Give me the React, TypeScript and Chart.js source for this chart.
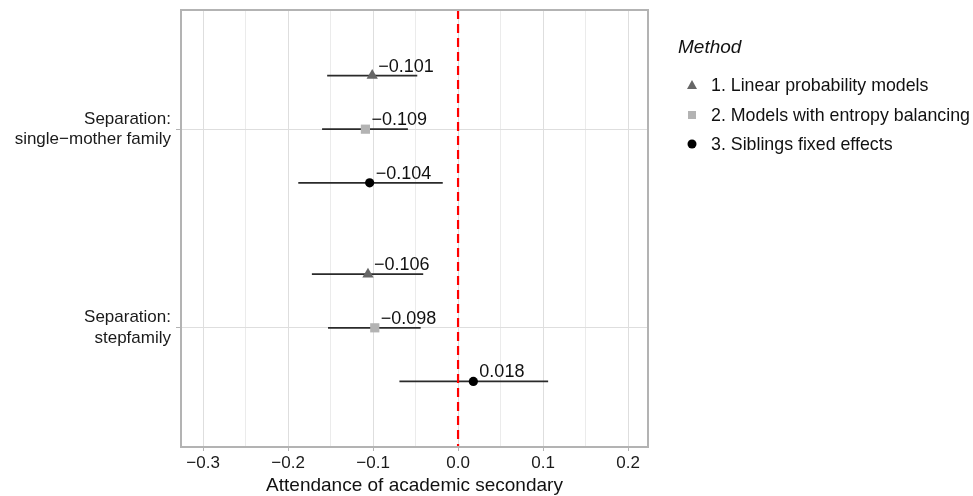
import { useEffect, useRef } from 'react';
import { Chart, registerables } from 'chart.js';

Chart.register(...registerables);

// ---------- data ----------
const categories: string[][] = [
  ['Separation:', 'single−mother family'],
  ['Separation:', 'stepfamily'],
];
const methods = [
  '1. Linear probability models',
  '2. Models with entropy balancing',
  '3. Siblings fixed effects',
];
const estLPM = [-0.101, -0.106];
const lowLPM = [-0.154, -0.172];
const highLPM = [-0.048, -0.041];
const estEB = [-0.109, -0.098];
const lowEB = [-0.160, -0.153];
const highEB = [-0.059, -0.044];
const estFE = [-0.104, 0.018];
const lowFE = [-0.188, -0.069];
const highFE = [-0.018, 0.106];
const xMajorTicks = [-0.3, -0.2, -0.1, 0.0, 0.1, 0.2];
const xTickLabels = ['−0.3', '−0.2', '−0.1', '0.0', '0.1', '0.2'];
const xMinorTicks = [-0.25, -0.15, -0.05, 0.05, 0.15];
const xTitle = 'Attendance of academic secondary';
const legendTitle = 'Method';

// ---------- styling ----------
const FONT = '"Liberation Sans", Arial, sans-serif';
const DODGE = [0.27, 0, -0.27];
const pointStyles = ['triangle', 'rect', 'circle'];
const pointColors = ['#666666', '#b3b3b3', '#000000'];
const pointRadii = [6.5, 6.5, 4.6];

const catValue = (i: number) => categories.length - i;
const fmt = (v: number) => v.toFixed(3).replace('-', '−');

const series = [
  { est: estLPM, lo: lowLPM, hi: highLPM },
  { est: estEB, lo: lowEB, hi: highEB },
  { est: estFE, lo: lowFE, hi: highFE },
];

const forestPlugin = {
  id: 'forest',
  beforeDatasetsDraw(chart: any) {
    const { ctx, chartArea, scales } = chart;
    const x = scales.x;
    const y = scales.y;
    ctx.save();
    // error bars
    chart.data.datasets.forEach((ds: any) => {
      ds.data.forEach((p: any) => {
        const py = y.getPixelForValue(p.y);
        ctx.beginPath();
        ctx.moveTo(x.getPixelForValue(p.lo), py);
        ctx.lineTo(x.getPixelForValue(p.hi), py);
        ctx.strokeStyle = '#2a2a2a';
        ctx.lineWidth = 1.8;
        ctx.stroke();
      });
    });
    // zero reference line
    const zx = x.getPixelForValue(0);
    ctx.setLineDash([9, 5]);
    ctx.strokeStyle = '#ff0000';
    ctx.lineWidth = 2.2;
    ctx.beginPath();
    ctx.moveTo(zx, chartArea.top);
    ctx.lineTo(zx, chartArea.bottom);
    ctx.stroke();
    ctx.restore();
  },
  afterDatasetsDraw(chart: any) {
    const { ctx, chartArea, scales } = chart;
    const x = scales.x;
    const y = scales.y;
    ctx.save();
    // value labels
    ctx.font = `18px ${FONT}`;
    ctx.fillStyle = '#111111';
    ctx.textAlign = 'left';
    ctx.textBaseline = 'alphabetic';
    chart.data.datasets.forEach((ds: any) => {
      ds.data.forEach((p: any) => {
        ctx.fillText(fmt(p.x), x.getPixelForValue(p.x) + 6, y.getPixelForValue(p.y) - 4);
      });
    });
    // panel border
    ctx.strokeStyle = '#b3b3b3';
    ctx.lineWidth = 2;
    ctx.strokeRect(chartArea.left, chartArea.top, chartArea.right - chartArea.left, chartArea.bottom - chartArea.top);
    // x title
    ctx.font = `19px ${FONT}`;
    ctx.fillStyle = '#111111';
    ctx.textAlign = 'center';
    ctx.textBaseline = 'middle';
    ctx.fillText(xTitle, (chartArea.left + chartArea.right) / 2, 486);
    // legend
    const lx = chartArea.right + 30;
    ctx.textAlign = 'left';
    ctx.font = `italic 19px ${FONT}`;
    ctx.fillText(legendTitle, lx, 48);
    ctx.font = `17.8px ${FONT}`;
    const rows = [85, 115, 144];
    chart.data.datasets.forEach((ds: any, i: number) => {
      const my = rows[i];
      const mx = lx + 14;
      ctx.fillStyle = ds.backgroundColor;
      ctx.beginPath();
      if (ds.pointStyle === 'triangle') {
        ctx.moveTo(mx, my - 5);
        ctx.lineTo(mx + 5, my + 4);
        ctx.lineTo(mx - 5, my + 4);
        ctx.closePath();
        ctx.fill();
      } else if (ds.pointStyle === 'rect') {
        ctx.fillRect(mx - 4, my - 4, 8, 8);
      } else {
        ctx.arc(mx, my, 4.5, 0, Math.PI * 2);
        ctx.fill();
      }
      ctx.fillStyle = '#111111';
      ctx.fillText(ds.label, lx + 33, my + 1);
    });
    ctx.restore();
  },
};

export default function App() {
  const ref = useRef<HTMLCanvasElement>(null);
  useEffect(() => {
    document.body.style.margin = '0';
    const canvas = ref.current!;
    const chart = new Chart(canvas, {
      type: 'scatter',
      data: {
        datasets: series.map((s, k) => ({
          label: methods[k],
          data: s.est.map((v, i) => ({ x: v, y: catValue(i) + DODGE[k], lo: s.lo[i], hi: s.hi[i] })),
          pointStyle: pointStyles[k] as any,
          backgroundColor: pointColors[k],
          borderColor: pointColors[k],
          borderWidth: 0,
          pointRadius: pointRadii[k],
          pointHoverRadius: pointRadii[k],
        })),
      },
      options: {
        animation: false,
        responsive: false,
        devicePixelRatio: 1,
        layout: { padding: { top: 10, right: 325, left: 0, bottom: 0 } },
        plugins: { legend: { display: false }, tooltip: { enabled: false } },
        scales: {
          x: {
            type: 'linear',
            min: -0.326,
            max: 0.2235,
            border: { display: false },
            afterBuildTicks: (scale: any) => {
              scale.ticks = [...xMajorTicks, ...xMinorTicks].sort((a, b) => a - b).map((v) => ({ value: v }));
            },
            afterFit: (scale: any) => {
              scale.height = 49;
              scale.paddingLeft = 0;
              scale.paddingRight = 0;
            },
            grid: {
              color: '#dedede',
              lineWidth: (c: any) => (xMajorTicks.some((m) => Math.abs(m - c.tick.value) < 1e-9) ? 1 : 0.6),
              tickColor: (c: any) => (xMajorTicks.some((m) => Math.abs(m - c.tick.value) < 1e-9) ? '#b3b3b3' : 'rgba(0,0,0,0)'),
              tickLength: 4,
              drawTicks: true,
            },
            ticks: {
              autoSkip: false,
              maxRotation: 0,
              padding: 2,
              color: '#1a1a1a',
              font: { family: FONT, size: 17 },
              callback: (v: any) => {
                const idx = xMajorTicks.findIndex((m) => Math.abs(m - Number(v)) < 1e-9);
                return idx >= 0 ? xTickLabels[idx] : '';
              },
            },
          },
          y: {
            type: 'linear',
            min: 0.4,
            max: 2.6,
            border: { display: false },
            afterBuildTicks: (scale: any) => {
              scale.ticks = categories.map((_, i) => ({ value: catValue(i) }));
            },
            afterFit: (scale: any) => {
              scale.width = 181;
              scale.paddingTop = 0;
              scale.paddingBottom = 0;
            },
            grid: {
              color: '#dedede',
              lineWidth: 1,
              tickColor: '#b3b3b3',
              tickLength: 5,
            },
            ticks: {
              autoSkip: false,
              padding: 5,
              color: '#1a1a1a',
              font: { family: FONT, size: 17, lineHeight: 1.2 },
              callback: (v: any) => {
                const idx = categories.findIndex((_, i) => catValue(i) === Number(v));
                return idx >= 0 ? categories[idx] : '';
              },
            },
          },
        },
      },
      plugins: [forestPlugin],
    });
    return () => chart.destroy();
  }, []);
  return (
    <div style={{ width: 973, height: 496 }}>
      <canvas ref={ref} width={973} height={496} style={{ display: 'block' }} />
    </div>
  );
}
